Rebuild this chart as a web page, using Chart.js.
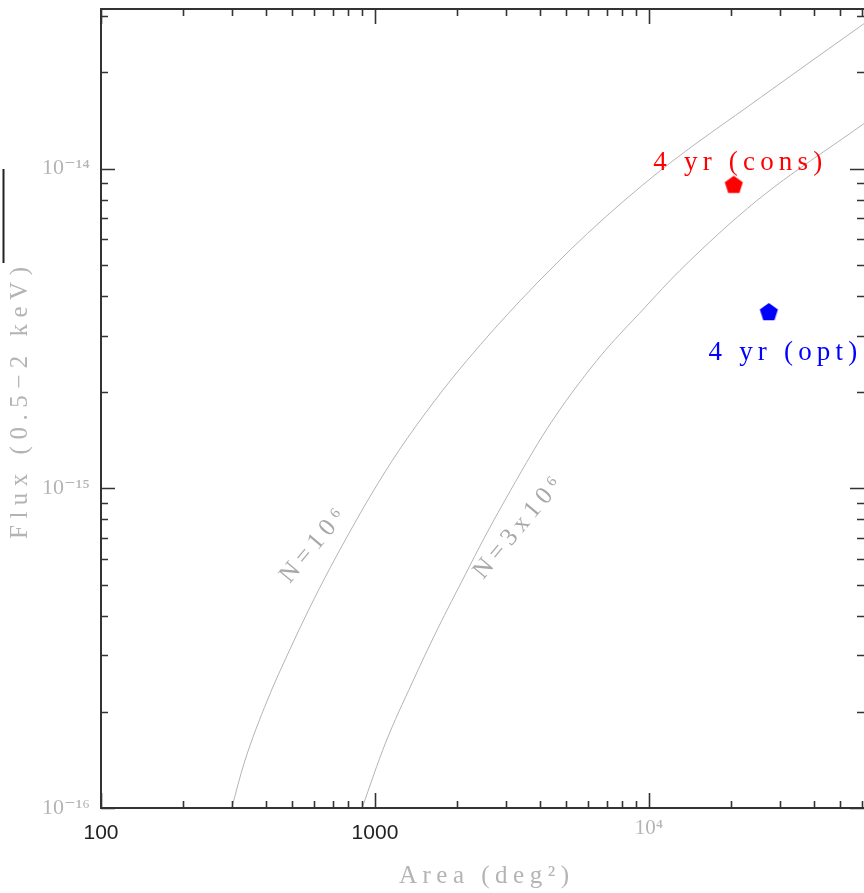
<!DOCTYPE html>
<html>
<head>
<meta charset="utf-8">
<script src="https://cdn.jsdelivr.net/npm/chart.js@4.4.1/dist/chart.umd.min.js"></script>
<style>
html, body { margin: 0; padding: 0; background: #fff; }
#wrap { width: 864px; height: 893px; }
</style>
</head>
<body>
<div id="wrap"><canvas id="chartFlux" width="864" height="893"></canvas></div>
<script>
// curva N = 10^6 (area en deg^2, flujo en erg/s/cm^2)
const areaN1 = [300, 333, 405, 488, 572, 688, 804, 975, 1224, 1656, 2167, 3396, 5963, 11015, 25520, 60920];
const fluxN1 = [1.0e-16, 1.382e-16, 2.176e-16, 3.118e-16, 4.157e-16, 5.665e-16, 7.233e-16, 9.647e-16, 1.314e-15, 1.884e-15, 2.512e-15, 3.868e-15, 6.263e-15, 9.857e-15, 1.667e-14, 2.838e-14];

// curva N = 3x10^6
const areaN3 = [897, 1092, 1365, 1684, 2148, 2479, 2982, 4280, 6459, 9670, 12975, 24790, 60920];
const fluxN3 = [1.0e-16, 1.596e-16, 2.458e-16, 3.598e-16, 5.42e-16, 6.879e-16, 9.173e-16, 1.551e-15, 2.512e-15, 3.678e-15, 4.801e-15, 7.943e-15, 1.382e-14];

// puntos 4 yr
const consArea = [20400];
const consFlux = [8.9e-15];
const optArea = [27400];
const optFlux = [3.56e-15];

// etiquetas de ejes
const xTickValues = [100, 1000, 10000];
const xTickLabels = ['100', '1000', '10⁴'];
const yTickValues = [1e-16, 1e-15, 1e-14];
const yTickLabels = ['10⁻¹⁶', '10⁻¹⁵', '10⁻¹⁴'];

// etiquetas de curvas
const curveLabels = ['N=10⁶', 'N=3x10⁶'];
const curveLabelArea = [594, 3327];
const curveLabelFlux = [6.59e-16, 7.5e-16];

const X_MIN = 100, X_MAX = 60950;
const Y_MIN = 1e-16, Y_MAX = 3.155e-14;

const GRIS = '#b4b4b4';
const SERIF = '"Liberation Serif", "DejaVu Serif", serif';

function pentagono(color, r) {
    const c = document.createElement('canvas');
    const w = Math.ceil(2 * r * Math.sin(0.4 * Math.PI)) + 2;
    const h = Math.ceil(r * (1 + Math.cos(0.2 * Math.PI))) + 2;
    c.width = w;
    c.height = h;
    const g = c.getContext('2d');
    g.fillStyle = color;
    g.beginPath();
    for (let i = 0; i < 5; i++) {
        const a = -Math.PI / 2 + i * 2 * Math.PI / 5;
        const px = w / 2 + r * Math.cos(a);
        const py = 1 + r + r * Math.sin(a);
        if (i === 0) g.moveTo(px, py); else g.lineTo(px, py);
    }
    g.closePath();
    g.fill();
    return c;
}

function toXY(xs, ys) {
    return xs.map((x, i) => ({ x: x, y: ys[i] }));
}

function textoEspaciado(ctx, text, x, y, spacing, angle) {
    ctx.save();
    ctx.translate(x, y);
    if (angle) ctx.rotate(angle * Math.PI / 180);
    ctx.letterSpacing = spacing + 'px';
    const w = ctx.measureText(text).width - spacing;
    ctx.textAlign = 'left';
    ctx.fillText(text, -w / 2, 0);
    ctx.restore();
}

function minorTicks(min, max) {
    const out = [];
    for (let e = Math.floor(Math.log10(min)); e <= Math.ceil(Math.log10(max)); e++) {
        for (let m = 1; m <= 9; m++) {
            const v = m * Math.pow(10, e);
            if (v >= min && v <= max * 1.0001) out.push({ v: v, major: m === 1 });
        }
    }
    return out;
}

function sinPadding(scale) {
    scale.paddingTop = 0;
    scale.paddingBottom = 0;
    scale.paddingLeft = 0;
    scale.paddingRight = 0;
}

const marcoPlugin = {
    id: 'marco',
    afterDatasetsDraw(chart) {
        const ctx = chart.ctx;
        const a = chart.chartArea;
        const xs = chart.scales.x, ys = chart.scales.y;
        ctx.save();
        ctx.strokeStyle = '#333';
        ctx.lineWidth = 2;
        ctx.beginPath();
        ctx.moveTo(a.right + 2, a.top); ctx.lineTo(a.left, a.top);
        ctx.lineTo(a.left, a.bottom); ctx.lineTo(a.right + 2, a.bottom);
        ctx.stroke();

        ctx.lineWidth = 1.6;
        ctx.beginPath();
        minorTicks(X_MIN, X_MAX).forEach(t => {
            const px = Math.round(xs.getPixelForValue(t.v)) + 0.5;
            const len = t.major ? 15 : 7;
            ctx.moveTo(px, a.bottom); ctx.lineTo(px, a.bottom - len);
            ctx.moveTo(px, a.top); ctx.lineTo(px, a.top + len);
        });
        minorTicks(Y_MIN, Y_MAX).forEach(t => {
            const py = Math.round(ys.getPixelForValue(t.v)) + 0.5;
            const len = t.major ? 14 : 7;
            ctx.moveTo(a.left, py); ctx.lineTo(a.left + len, py);
            ctx.moveTo(a.right, py); ctx.lineTo(a.right - len, py);
        });
        ctx.stroke();

        // textos
        ctx.textBaseline = 'middle';
        ctx.fillStyle = GRIS;
        ctx.font = '25px ' + SERIF;
        textoEspaciado(ctx, 'Area (deg²)', 484, 876, 5.5, 0);
        textoEspaciado(ctx, 'Flux (0.5−2 keV)', 20, 403, 6.5, -90);

        ctx.fillStyle = '#a8a8a8';
        ctx.font = '25px ' + SERIF;
        curveLabels.forEach((t, i) => {
            textoEspaciado(ctx, t, xs.getPixelForValue(curveLabelArea[i]), ys.getPixelForValue(curveLabelFlux[i]), 5.5, -50);
        });

        ctx.textBaseline = 'alphabetic';
        ctx.font = '27px ' + SERIF;
        ctx.fillStyle = '#ff0000';
        textoEspaciado(ctx, '4 yr (cons)', xs.getPixelForValue(consArea[0]) + 4, ys.getPixelForValue(consFlux[0]) - 15, 5.2, 0);
        ctx.fillStyle = '#0000ff';
        textoEspaciado(ctx, '4 yr (opt)', xs.getPixelForValue(optArea[0]) + 14, ys.getPixelForValue(optFlux[0]) + 48, 5.2, 0);

        // raya de la fraccion del titulo
        ctx.strokeStyle = '#222';
        ctx.lineWidth = 2;
        ctx.beginPath();
        ctx.moveTo(3.5, 169); ctx.lineTo(3.5, 263);
        ctx.stroke();
        ctx.restore();
    }
};

const ctx = document.getElementById('chartFlux');

new Chart(ctx, {
    type: 'scatter',
    data: {
        datasets: [{
            label: 'N=10⁶',
            data: toXY(areaN1, fluxN1),
            showLine: true,
            borderColor: GRIS,
            borderWidth: 1,
            pointRadius: 0,
            cubicInterpolationMode: 'monotone'
        }, {
            label: 'N=3x10⁶',
            data: toXY(areaN3, fluxN3),
            showLine: true,
            borderColor: GRIS,
            borderWidth: 1,
            pointRadius: 0,
            cubicInterpolationMode: 'monotone'
        }, {
            label: '4 yr (cons)',
            data: toXY(consArea, consFlux),
            pointStyle: pentagono('#ff0000', 9.5),
            pointRadius: 10,
            pointHoverRadius: 10
        }, {
            label: '4 yr (opt)',
            data: toXY(optArea, optFlux),
            pointStyle: pentagono('#0000ff', 9.5),
            pointRadius: 10,
            pointHoverRadius: 10
        }]
    },
    options: {
        responsive: false,
        animation: false,
        devicePixelRatio: 1,
        layout: { autoPadding: false, padding: { top: 9, left: 0, right: 0, bottom: 0 } },
        plugins: {
            legend: { display: false },
            tooltip: { enabled: false }
        },
        scales: {
            x: {
                type: 'logarithmic',
                min: X_MIN,
                max: X_MAX,
                grid: { display: false, drawTicks: false, tickLength: 0 },
                border: { display: false },
                afterBuildTicks: function (scale) {
                    scale.ticks = xTickValues.map(v => ({ value: v }));
                },
                afterFit: function (scale) { scale.height = 85; sinPadding(scale); },
                ticks: {
                    autoSkip: false,
                    maxRotation: 0,
                    padding: 13,
                    callback: function (value) {
                        const i = xTickValues.indexOf(value);
                        return i >= 0 ? xTickLabels[i] : '';
                    },
                    color: function (c) {
                        return c.tick && c.tick.value === 10000 ? GRIS : '#222';
                    },
                    font: function (c) {
                        if (c.tick && c.tick.value === 10000) {
                            return { family: SERIF, size: 21, lineHeight: 0.7 };
                        }
                        return { family: '"Liberation Sans", Arial, sans-serif', size: 21 };
                    }
                }
            },
            y: {
                type: 'logarithmic',
                min: Y_MIN,
                max: Y_MAX,
                grid: { display: false, drawTicks: false, tickLength: 0 },
                border: { display: false },
                afterBuildTicks: function (scale) {
                    scale.ticks = yTickValues.map(v => ({ value: v }));
                },
                afterFit: function (scale) { scale.width = 101; sinPadding(scale); },
                ticks: {
                    autoSkip: false,
                    padding: 11,
                    color: GRIS,
                    font: { family: SERIF, size: 22 },
                    callback: function (value) {
                        const i = yTickValues.findIndex(v => Math.abs(v - value) / v < 1e-6);
                        return i >= 0 ? yTickLabels[i] : '';
                    }
                }
            }
        }
    },
    plugins: [marcoPlugin]
});
</script>
</body>
</html>
